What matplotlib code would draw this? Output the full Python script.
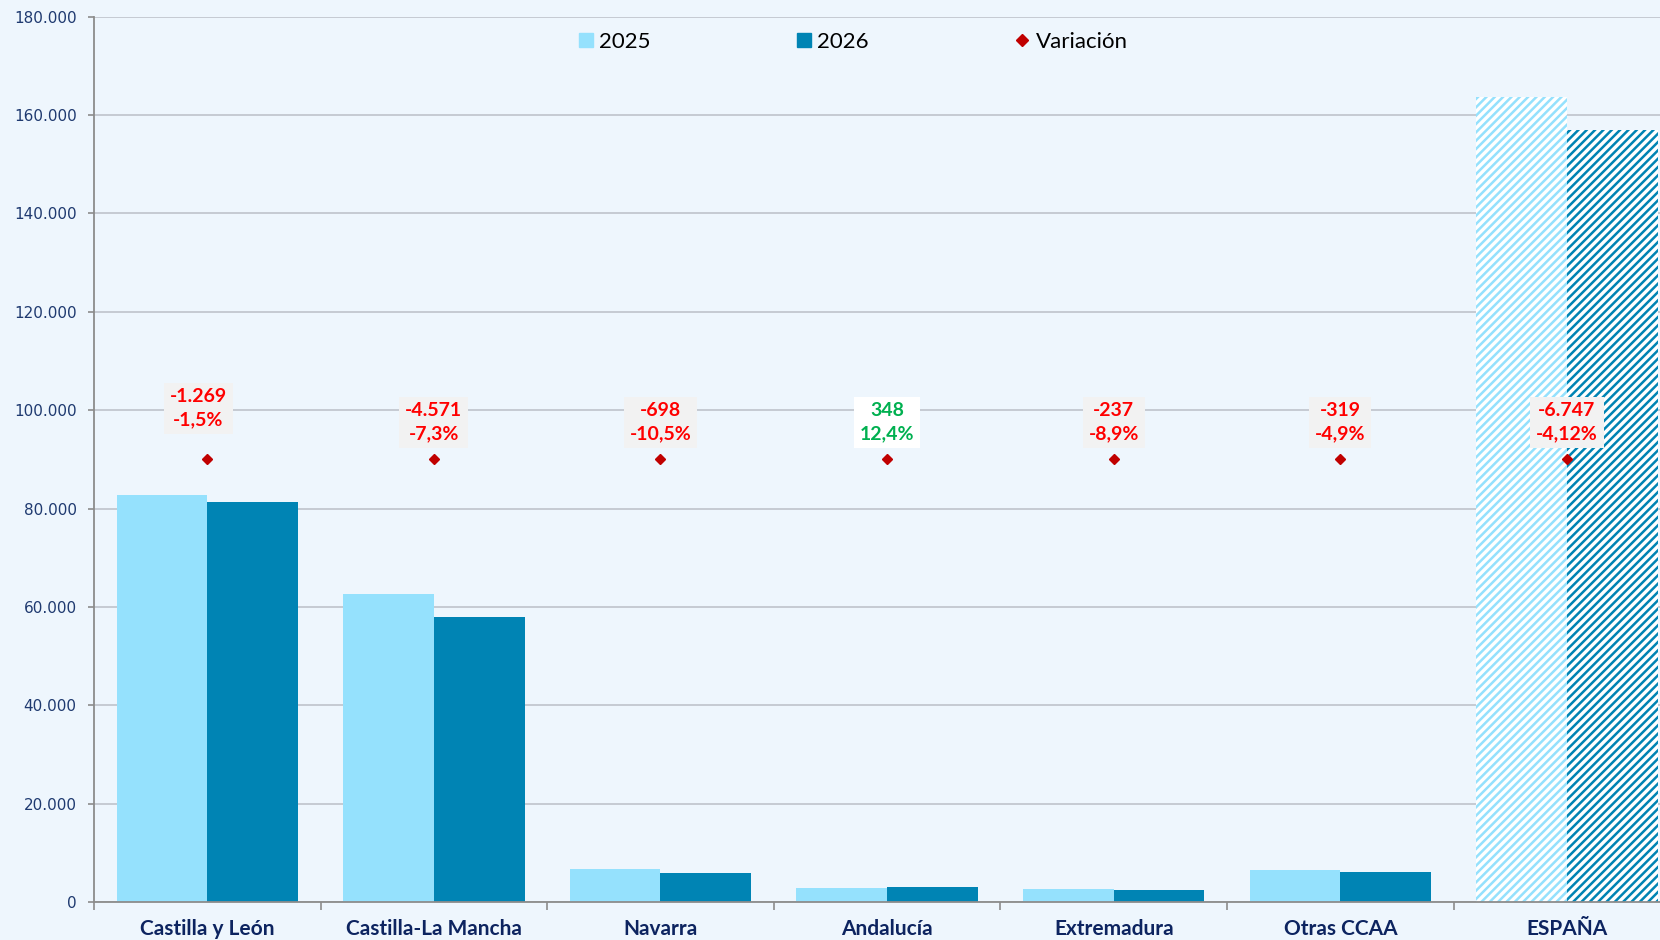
import matplotlib
matplotlib.use('Agg')
import matplotlib.pyplot as plt
from matplotlib.lines import Line2D
import numpy as np

# datos
regiones = ['Castilla y León', 'Castilla-La Mancha', 'Navarra', 'Andalucía',
            'Extremadura', 'Otras CCAA', 'ESPAÑA']
v2025 = [82700, 62620, 6650, 2806, 2663, 6510, 163760]
v2026 = [81431, 58049, 5952, 3154, 2426, 6191, 157013]
variacion = [-1269, -4571, -698, 348, -237, -319, -6747]
variacion_pct = ['-1,5%', '-7,3%', '-10,5%', '12,4%', '-8,9%', '-4,9%', '-4,12%']
var_y = [90000, 90000, 90000, 90000, 90000, 90000, 90000]
y_ticks = [0, 20000, 40000, 60000, 80000, 100000, 120000, 140000, 160000, 180000]

C_2025 = '#95E1FD'
C_2026 = '#0084B4'
FONDO = '#EEF6FD'

plt.rcParams['hatch.linewidth'] = 1.8

fig = plt.figure(figsize=(16.6, 9.4), dpi=100, facecolor=FONDO)
ax = fig.add_axes([0.0566, 0.0404, 0.9556, 0.9418], facecolor=FONDO)

x = np.arange(len(regiones))
w = 0.4
n = len(regiones) - 1  # la ultima (ESPAÑA) va rayada

ax.bar(x[:n] - w / 2, v2025[:n], w, color=C_2025, zorder=3)
ax.bar(x[:n] + w / 2, v2026[:n], w, color=C_2026, zorder=3)
ax.bar(x[n] - w / 2, v2025[n], w, facecolor='white', edgecolor=C_2025,
       hatch='////', linewidth=0, zorder=3)
ax.bar(x[n] + w / 2, v2026[n], w, facecolor='white', edgecolor=C_2026,
       hatch='////', linewidth=0, zorder=3)

ax.plot(x, var_y, linestyle='none', marker='D', markersize=5.5,
        color='#C00000', zorder=5)

# etiquetas de variacion encima del rombo
for i in range(len(regiones)):
    num = f"{variacion[i]:,}".replace(',', '.')
    txt_color = '#00B050' if variacion[i] > 0 else '#FF0000'
    box_color = 'white' if variacion[i] > 0 else '#F2F2F2'
    dx, dy = (-9, 51) if i == 0 else (0, 37)
    ax.annotate(f"{num}\n{variacion_pct[i]}", (x[i], var_y[i]),
                xytext=(dx, dy), textcoords='offset pixels',
                ha='center', va='center', fontsize=14, fontweight='bold',
                family='Lato', color=txt_color, linespacing=1.42,
                bbox=dict(boxstyle='square,pad=0.3', fc=box_color, ec='none'),
                zorder=6)

ax.set_xlim(-0.5, len(regiones) - 0.5)
ax.set_ylim(0, 180000)
ax.set_yticks(y_ticks)
ax.set_yticklabels([f"{v:,}".replace(',', '.') for v in y_ticks])
ax.set_xticks(x)
ax.set_xticklabels(regiones)
ax.set_xticks(np.arange(-0.5, len(regiones), 1.0), minor=True)

for lab in ax.get_xticklabels():
    lab.set_family('Lato')
    lab.set_fontweight('bold')
    lab.set_fontsize(15)
    lab.set_color('#0D2460')
for lab in ax.get_yticklabels():
    lab.set_fontsize(11)
    lab.set_color('#1F3A70')

ax.tick_params(axis='x', which='major', length=0, pad=12.5)
ax.tick_params(axis='x', which='minor', length=6, width=1.2, color='#8C8C8C', direction='out')
ax.tick_params(axis='y', length=4.5, width=1.2, color='#8C8C8C', pad=8)

ax.grid(axis='y', color='#C2C7CF', linewidth=1.3, zorder=0)
ax.set_axisbelow(True)
for s in ['top', 'right']:
    ax.spines[s].set_visible(False)
for s in ['left', 'bottom']:
    ax.spines[s].set_color('#8C8C8C')
    ax.spines[s].set_linewidth(1.3)
    ax.spines[s].set_zorder(4)

handles = [
    Line2D([], [], linestyle='none', marker='s', markersize=10, color=C_2025),
    Line2D([], [], linestyle='none', marker='s', markersize=10, color=C_2026),
    Line2D([], [], linestyle='none', marker='D', markersize=6, color='#C00000'),
]
fig.legend(handles, ['2025', '2026', 'Variación'], loc='center',
           bbox_to_anchor=(0.514, 1 - 42 / 940), ncol=3, frameon=False,
           prop={'family': 'Lato', 'size': 16}, handlelength=0.6,
           handletextpad=0.3, columnspacing=6.6)

fig.savefig('out.png', dpi=100, facecolor=FONDO)
